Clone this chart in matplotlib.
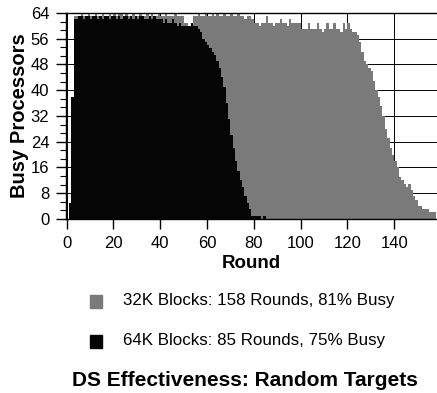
import numpy as np
import matplotlib
matplotlib.use("Agg")
import matplotlib.pyplot as plt
from matplotlib.patches import Rectangle
from matplotlib.ticker import MultipleLocator

# ---- data (busy processors per round) ----
rounds_32k = np.arange(1, 159)
busy_32k = [
    0, 5, 38, 63, 63, 63, 64, 63, 63, 64,
    63, 63, 64, 63, 63, 64, 63, 63, 64, 63,
    64, 63, 64, 64, 63, 64, 63, 63, 64, 63,
    63, 64, 63, 63, 64, 63, 64, 63, 63, 64,
    63, 63, 64, 63, 63, 63, 64, 63, 63, 63,
    61, 61, 60, 61, 63, 63, 64, 63, 63, 64,
    63, 63, 64, 63, 64, 63, 63, 64, 63, 63,
    64, 63, 63, 64, 63, 63, 62, 63, 63, 62,
    61, 61, 60, 61, 61, 63, 61, 61, 60, 61,
    61, 62, 61, 61, 60, 62, 61, 61, 61, 61,
    59, 59, 59, 61, 59, 59, 59, 61, 59, 58,
    59, 61, 59, 59, 61, 59, 59, 58, 61, 59,
    61, 59, 58, 58, 57, 55, 52, 49, 48, 47,
    46, 43, 40, 38, 35, 32, 28, 25, 22, 20,
    18, 16, 13, 12, 11, 10, 11, 9, 7, 6,
    4, 4, 3, 3, 3, 2, 2, 2,
]

rounds_64k = np.arange(1, 86)
busy_64k = [
    0, 5, 38, 62, 62, 63, 63, 62, 63, 63,
    62, 63, 63, 62, 63, 62, 63, 63, 62, 63,
    63, 62, 63, 62, 63, 63, 62, 63, 62, 63,
    62, 63, 63, 62, 62, 63, 62, 63, 62, 62,
    62, 61, 62, 61, 61, 62, 61, 60, 61, 60,
    60, 60, 60, 61, 60, 60, 59, 58, 56, 55,
    54, 53, 52, 51, 49, 47, 44, 41, 36, 31,
    26, 22, 18, 15, 12, 10, 7, 5, 3, 1,
    1, 1, 1, 0, 1,
]

legend_labels = ["32K Blocks: 158 Rounds, 81% Busy",
                 "64K Blocks: 85 Rounds, 75% Busy"]
title = "DS Effectiveness: Random Targets"

gray_col = "#7a7a7a"
black_col = "#050505"

plt.rcParams['font.family'] = ['Liberation Sans', 'DejaVu Sans']

fig = plt.figure(figsize=(4.37, 3.93), dpi=100)
ax = fig.add_axes([0.151, 0.443, 0.849, 0.524])

ax.bar(rounds_32k - 1, busy_32k, width=1.0, align='edge', color=gray_col,
       linewidth=0, zorder=2)
ax.bar(rounds_64k - 1, busy_64k, width=1.0, align='edge', color=black_col,
       linewidth=0, zorder=3)

ax.set_xlim(-0.3, 158.3)
ax.set_ylim(0, 64)
ax.set_xticks(np.arange(0, 141, 20))
ax.set_yticks(np.arange(0, 65, 8))
ax.yaxis.set_minor_locator(MultipleLocator(8 / 3))
ax.grid(True, color='black', linewidth=0.7, zorder=0)
ax.set_axisbelow(True)

ax.tick_params(axis='both', which='major', labelsize=12, length=7,
               width=1.0, direction='out')
ax.tick_params(axis='x', which='major', pad=5)
ax.tick_params(axis='y', which='major', pad=5)
ax.tick_params(axis='y', which='minor', length=4, width=0.8)
for s in ['left', 'bottom', 'top']:
    ax.spines[s].set_linewidth(1.0)
ax.spines['right'].set_visible(False)

ax.set_xlabel("Round", fontsize=13.5, fontweight='bold', labelpad=3)
ax.set_ylabel("Busy Processors", fontsize=14.5, fontweight='bold', labelpad=1)

# legend drawn below the axes, as in the original
fig.add_artist(Rectangle((90 / 437, 1 - 308 / 393), 12 / 437, 13 / 393,
                         transform=fig.transFigure, color=gray_col))
fig.add_artist(Rectangle((90 / 437, 1 - 348 / 393), 12 / 437, 13 / 393,
                         transform=fig.transFigure, color=black_col))
fig.text(123 / 437, 1 - 301 / 393, legend_labels[0], fontsize=12.2,
         va='center', ha='left')
fig.text(123 / 437, 1 - 341 / 393, legend_labels[1], fontsize=12.2,
         va='center', ha='left')
fig.text(245 / 437, 1 - 381 / 393, title, fontsize=15, fontweight='bold',
         va='center', ha='center')

fig.savefig("out.png", dpi=100)
